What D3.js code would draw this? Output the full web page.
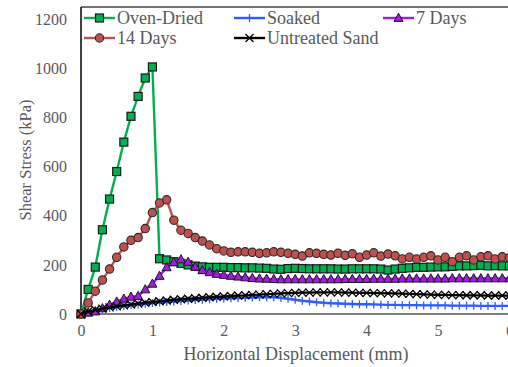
<!DOCTYPE html>
<html><head><meta charset="utf-8">
<script src="https://cdn.jsdelivr.net/npm/d3@7"></script>
<style>
html,body{margin:0;padding:0;background:#fff;}
svg{display:block;}
svg text{font-family:"Liberation Serif","Times New Roman",Times,"DejaVu Serif",serif !important;fill:#595959;}
</style></head>
<body><svg id="c" width="508" height="367"></svg>
<script>
const displacement = [0,0.1,0.2,0.3,0.4,0.5,0.6,0.7,0.8,0.9,1.0,1.1,1.2,1.3,1.4,1.5,1.6,1.7,1.8,1.9,2.0,2.1,2.2,2.3,2.4,2.5,2.6,2.7,2.8,2.9,3.0,3.1,3.2,3.3,3.4,3.5,3.6,3.7,3.8,3.9,4.0,4.1,4.2,4.3,4.4,4.5,4.6,4.7,4.8,4.9,5.0,5.1,5.2,5.3,5.4,5.5,5.6,5.7,5.8,5.9,6.0];
const ovenDried = [0,100,191,343,468,580,700,805,886,961,1006,225,220,213,206,200,195,192,190,190,190,189,189,188,188,187,186,183,182,185,186,185,184,184,184,184,183,183,184,184,184,184,183,179,183,186,188,190,190,191,192,192,194,196,196,197,198,196,197,196,196];
const soaked = [0,8,14,19,24,28,32,36,39,42,45,47,49,51,53,55,57,58,60,62,63,64,65,66,67,68,68,68,66,62,58,54,51,48,46,44,43,42,41,40,40,39,38,37,37,36,36,36,35,35,35,35,34,34,34,34,33,33,33,33,33];
const days7 = [0,5,10,23,37,50,62,70,73,100,123,155,190,211,222,212,192,178,170,163,159,155,152,149,146,144,143,142,141,141,141,141,141,141,141,141,141,142,142,142,142,143,143,143,143,144,144,144,144,144,144,144,145,145,145,145,145,145,145,145,145];
const days14 = [0,45,93,138,183,231,273,300,311,348,413,452,465,382,341,328,311,297,281,266,257,251,253,253,251,247,249,253,251,247,243,236,249,247,243,240,247,239,245,231,240,249,236,244,237,224,231,224,231,237,220,231,213,231,237,220,233,237,224,233,230];
const untreated = [0,10,17,22,27,31,35,39,43,46,49,52,55,58,60,62,64,66,68,70,71,73,75,76,78,79,81,82,84,85,86,87,87,88,88,88,88,87,87,86,86,85,85,84,84,83,82,81,80,79,78,78,77,77,76,76,76,75,75,75,75];
const yTicks = [0,200,400,600,800,1000,1200];
const xTicks = [0,1,2,3,4,5,6];
const seriesNames = ["Oven-Dried","Soaked","7 Days","14 Days","Untreated Sand"];

const series = [
  {name:seriesNames[0], values:ovenDried, color:"#00B050", fill:"#00B050", marker:"square"},
  {name:seriesNames[1], values:soaked, color:"#2F5CFF", fill:"#2F5CFF", marker:"plus"},
  {name:seriesNames[2], values:days7, color:"#A21BE0", fill:"#A21BE0", marker:"triangle"},
  {name:seriesNames[3], values:days14, color:"#C0504D", fill:"#C0504D", marker:"circle"},
  {name:seriesNames[4], values:untreated, color:"#000000", fill:"#000000", marker:"cross"}
];

const FONT = "'Liberation Serif','Times New Roman',Times,'DejaVu Serif',serif";
const svg = d3.select("#c");
const x = d3.scaleLinear().domain([0,6]).range([81,509.4]);
const y = d3.scaleLinear().domain([0,1250]).range([314,7]);

svg.append("line").attr("x1",81).attr("x2",508).attr("y1",7).attr("y2",7).attr("stroke","#444").attr("stroke-width",1.3);

const yAxis = d3.axisLeft(y).tickValues(yTicks).tickSize(0).tickPadding(14).tickFormat(d3.format("d"));
const gy = svg.append("g").attr("transform","translate(81,0)").call(yAxis).attr("font-family",FONT);
gy.select(".domain").remove();
gy.selectAll("text").style("font-size","16px").attr("fill","#595959");

const xAxis = d3.axisBottom(x).tickValues(xTicks).tickSize(0).tickPadding(11).tickFormat(d3.format("d"));
const gx = svg.append("g").attr("transform","translate(0,314)").call(xAxis).attr("font-family",FONT);
gx.select(".domain").remove();
gx.selectAll("text").style("font-size","16px").attr("fill","#595959");

svg.append("line").attr("x1",81).attr("x2",508).attr("y1",314).attr("y2",314).attr("stroke","#7f7f7f").attr("stroke-width",2);
svg.append("line").attr("x1",81).attr("x2",81).attr("y1",7).attr("y2",315).attr("stroke","#111").attr("stroke-width",1.6);

svg.append("text").attr("x",296).attr("y",360).attr("text-anchor","middle").attr("font-family",FONT).style("font-size","18px").text("Horizontal Displacement (mm)");
svg.append("text").attr("transform","translate(31,160) rotate(-90)").attr("text-anchor","middle").attr("font-family",FONT).style("font-size","16.5px").text("Shear Stress (kPa)");

function drawMarker(g, type, cx, cy, s) {
  if (type==="square") {
    g.append("rect").attr("x",cx-4).attr("y",cy-4).attr("width",8).attr("height",8)
      .attr("fill",s.fill).attr("stroke","#1a1a1a").attr("stroke-width",1.2);
  } else if (type==="circle") {
    g.append("circle").attr("cx",cx).attr("cy",cy).attr("r",4.2)
      .attr("fill",s.fill).attr("stroke","#2a2a2a").attr("stroke-width",1.1);
  } else if (type==="triangle") {
    g.append("path").attr("d",`M${cx},${cy-4.8}L${cx+4.5},${cy+3.4}L${cx-4.5},${cy+3.4}Z`)
      .attr("fill",s.fill).attr("stroke","#1a1a1a").attr("stroke-width",1);
  } else if (type==="plus") {
    g.append("path").attr("d",`M${cx-4},${cy}H${cx+4}M${cx},${cy-4}V${cy+4}`)
      .attr("stroke",s.color).attr("stroke-width",1.3).attr("fill","none");
  } else if (type==="cross") {
    g.append("path").attr("d",`M${cx-4},${cy-4}L${cx+4},${cy+4}M${cx-4},${cy+4}L${cx+4},${cy-4}`)
      .attr("stroke","#000").attr("stroke-width",1.3).attr("fill","none");
  }
}

const line = d3.line().x(d=>x(d[0])).y(d=>y(d[1]));
const plot = svg.append("g");
series.forEach(s => {
  const pts = displacement.map((d,i)=>[d, s.values[i]]);
  const g = plot.append("g");
  g.append("path").datum(pts).attr("d",line).attr("fill","none")
    .attr("stroke",s.color).attr("stroke-width",2.4).attr("stroke-linejoin","round");
  pts.forEach(p => drawMarker(g, s.marker, x(p[0]), y(p[1]), s));
});

const legendPos = [
  {lx:84, ly:18}, {lx:234, ly:18}, {lx:383, ly:18}, {lx:84, ly:38}, {lx:234, ly:38}
];
series.forEach((s,i)=>{
  const p = legendPos[i];
  const g = svg.append("g");
  g.append("line").attr("x1",p.lx).attr("x2",p.lx+31).attr("y1",p.ly).attr("y2",p.ly)
    .attr("stroke",s.color).attr("stroke-width",2.4);
  drawMarker(g, s.marker, p.lx+15.5, p.ly, s);
  g.append("text").attr("x",p.lx+33).attr("y",p.ly+5.5).attr("font-family",FONT).style("font-size","18px").text(s.name);
});
</script></body></html>
